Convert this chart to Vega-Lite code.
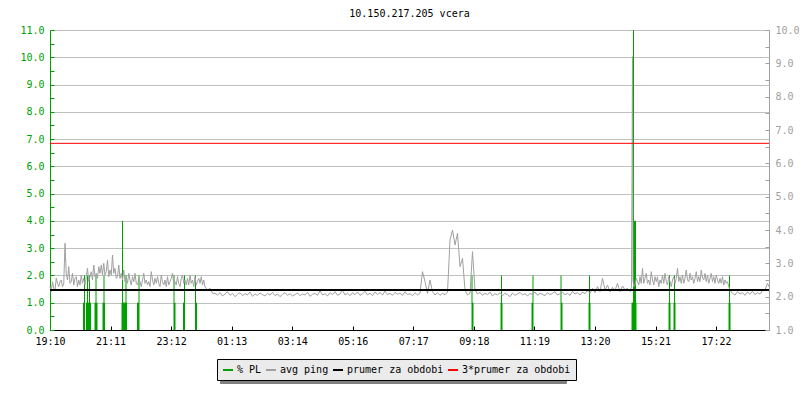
{
  "$schema": "https://vega.github.io/schema/vega-lite/v6.json",
  "width": 719,
  "height": 300,
  "autosize": {"type": "none"},
  "padding": {"left": 50, "top": 30, "right": 31, "bottom": 70},
  "background": "white",
  "title": {"text": "10.150.217.205 vcera", "font": "DejaVu Sans Mono", "fontSize": 10, "fontWeight": "normal", "color": "#000000", "anchor": "middle", "offset": 6},
  "config": {"font": "DejaVu Sans Mono", "view": {"stroke": null}, "axis": {"labelOverlap": false, "labelBound": false, "title": null}},
  "datasets": {
    "pl": [
      {"t":67,"pl":1},{"t":68,"pl":1},{"t":69,"pl":2},
      {"t":73,"pl":1},{"t":74,"pl":1},{"t":75,"pl":2},{"t":76,"pl":1},{"t":77,"pl":1},{"t":78,"pl":1},{"t":79,"pl":2},{"t":80,"pl":1},{"t":81,"pl":1},
      {"t":90,"pl":1},{"t":91,"pl":1},{"t":92,"pl":2},{"t":93,"pl":1},{"t":94,"pl":1},
      {"t":106,"pl":1},{"t":107,"pl":1},{"t":108,"pl":2},{"t":109,"pl":1},
      {"t":144,"pl":1},{"t":145,"pl":4},{"t":146,"pl":1},{"t":147,"pl":1},{"t":148,"pl":1},{"t":149,"pl":1},{"t":150,"pl":1},{"t":151,"pl":1},{"t":152,"pl":2},{"t":153,"pl":1},
      {"t":175,"pl":1},{"t":176,"pl":1},{"t":177,"pl":1},{"t":178,"pl":2},
      {"t":248,"pl":2},{"t":249,"pl":1},{"t":250,"pl":1},
      {"t":267,"pl":1},{"t":268,"pl":1},{"t":269,"pl":2},
      {"t":291,"pl":2},{"t":292,"pl":1},{"t":293,"pl":1},
      {"t":844,"pl":2},{"t":845,"pl":1},{"t":846,"pl":1},
      {"t":902,"pl":1},{"t":903,"pl":2},{"t":904,"pl":1},
      {"t":964,"pl":1},{"t":965,"pl":1},{"t":966,"pl":2},
      {"t":1022,"pl":2},{"t":1023,"pl":1},{"t":1024,"pl":1},
      {"t":1078,"pl":1},{"t":1079,"pl":2},{"t":1080,"pl":1},
      {"t":1164,"pl":1},{"t":1165,"pl":1},{"t":1166,"pl":1},{"t":1167,"pl":11},{"t":1168,"pl":4},{"t":1169,"pl":4},{"t":1170,"pl":4},{"t":1171,"pl":4},{"t":1172,"pl":1},
      {"t":1238,"pl":1},{"t":1239,"pl":2},{"t":1240,"pl":1},
      {"t":1248,"pl":1},{"t":1249,"pl":2},{"t":1250,"pl":1},
      {"t":1358,"pl":1},{"t":1359,"pl":2},{"t":1360,"pl":1}
    ],
    "ping": [
      {"t":0,"ping":2.3},{"t":2.5,"ping":2.15},{"t":5,"ping":2.45},{"t":7.5,"ping":2.25},{"t":10,"ping":2.2},{"t":12.5,"ping":2.55},{"t":15,"ping":2.4},{"t":17.5,"ping":2.3},{"t":20,"ping":2.45},{"t":22.5,"ping":2.5},
      {"t":25,"ping":2.3},{"t":27.5,"ping":2.4},{"t":30,"ping":3.6},{"t":32.5,"ping":2.7},{"t":35,"ping":2.5},{"t":37.5,"ping":2.9},{"t":40,"ping":2.4},{"t":42.5,"ping":2.45},{"t":45,"ping":2.7},{"t":47.5,"ping":2.35},
      {"t":50,"ping":2.55},{"t":52.5,"ping":2.6},{"t":55,"ping":2.3},{"t":57.5,"ping":2.5},{"t":60,"ping":2.35},{"t":62.5,"ping":2.65},{"t":65,"ping":2.4},{"t":67.5,"ping":2.55},{"t":70,"ping":2.35},{"t":72.5,"ping":2.6},
      {"t":75,"ping":2.85},{"t":77.5,"ping":2.45},{"t":80,"ping":2.6},{"t":82.5,"ping":2.75},{"t":85,"ping":2.5},{"t":87.5,"ping":2.95},{"t":90,"ping":2.6},{"t":92.5,"ping":2.7},{"t":95,"ping":2.55},{"t":97.5,"ping":2.9},
      {"t":100,"ping":2.7},{"t":102.5,"ping":2.95},{"t":105,"ping":2.65},{"t":107.5,"ping":3.0},{"t":110,"ping":2.65},{"t":112.5,"ping":2.75},{"t":115,"ping":3.1},{"t":117.5,"ping":2.6},{"t":120,"ping":2.8},{"t":122.5,"ping":2.65},
      {"t":125,"ping":3.25},{"t":127.5,"ping":2.7},{"t":130,"ping":2.85},{"t":132.5,"ping":2.55},{"t":135,"ping":2.6},{"t":137.5,"ping":2.95},{"t":140,"ping":2.55},{"t":142.5,"ping":2.7},{"t":145,"ping":2.5},{"t":147.5,"ping":2.8},
      {"t":150,"ping":2.45},{"t":152.5,"ping":2.55},{"t":155,"ping":2.4},{"t":157.5,"ping":2.7},{"t":160,"ping":2.5},{"t":162.5,"ping":2.35},{"t":165,"ping":2.6},{"t":167.5,"ping":2.45},{"t":170,"ping":2.7},{"t":172.5,"ping":2.4},
      {"t":175,"ping":2.35},{"t":177.5,"ping":2.55},{"t":180,"ping":2.45},{"t":182.5,"ping":2.3},{"t":185,"ping":2.5},{"t":187.5,"ping":2.7},{"t":190,"ping":2.4},{"t":192.5,"ping":2.5},{"t":195,"ping":2.35},{"t":197.5,"ping":2.45},
      {"t":200,"ping":2.3},{"t":202.5,"ping":2.75},{"t":205,"ping":2.5},{"t":207.5,"ping":2.35},{"t":210,"ping":2.55},{"t":212.5,"ping":2.4},{"t":215,"ping":2.6},{"t":217.5,"ping":2.4},{"t":220,"ping":2.3},{"t":222.5,"ping":2.65},
      {"t":225,"ping":2.45},{"t":227.5,"ping":2.35},{"t":230,"ping":2.5},{"t":232.5,"ping":2.3},{"t":235,"ping":2.6},{"t":237.5,"ping":2.35},{"t":240,"ping":2.45},{"t":242.5,"ping":2.55},{"t":245,"ping":2.7},{"t":247.5,"ping":2.4},
      {"t":250,"ping":2.45},{"t":252.5,"ping":2.35},{"t":255,"ping":2.6},{"t":257.5,"ping":2.4},{"t":260,"ping":2.3},{"t":262.5,"ping":2.55},{"t":265,"ping":2.65},{"t":267.5,"ping":2.4},{"t":270,"ping":2.5},{"t":272.5,"ping":2.35},
      {"t":275,"ping":2.55},{"t":277.5,"ping":2.35},{"t":280,"ping":2.65},{"t":282.5,"ping":2.4},{"t":285,"ping":2.5},{"t":287.5,"ping":2.3},{"t":290,"ping":2.6},{"t":292.5,"ping":2.35},{"t":295,"ping":2.45},{"t":297.5,"ping":2.55},
      {"t":300,"ping":2.4},{"t":302.5,"ping":2.6},{"t":305,"ping":2.35},{"t":307.5,"ping":2.5},{"t":310,"ping":2.3},{"t":315,"ping":2.2},{"t":320,"ping":2.25},{"t":325,"ping":2.1},
      {"t":330,"ping":2.1},{"t":335,"ping":2.05},{"t":340,"ping":2.12},{"t":345,"ping":2.02},{"t":350,"ping":2.08},{"t":355,"ping":2.15},{"t":360,"ping":2.04},{"t":365,"ping":2.1},{"t":370,"ping":2.0},{"t":375,"ping":2.07},
      {"t":380,"ping":2.12},{"t":385,"ping":2.03},{"t":390,"ping":2.09},{"t":395,"ping":2.05},{"t":400,"ping":2.14},{"t":405,"ping":2.01},{"t":410,"ping":2.08},{"t":415,"ping":2.04},{"t":420,"ping":2.11},{"t":425,"ping":2.06},
      {"t":430,"ping":2.02},{"t":435,"ping":2.1},{"t":440,"ping":2.05},{"t":445,"ping":2.13},{"t":450,"ping":2.03},{"t":455,"ping":2.08},{"t":460,"ping":2.0},{"t":465,"ping":2.07},{"t":470,"ping":2.12},{"t":475,"ping":2.04},
      {"t":480,"ping":2.09},{"t":485,"ping":2.02},{"t":490,"ping":2.06},{"t":495,"ping":2.11},{"t":500,"ping":2.03},{"t":505,"ping":2.08},{"t":510,"ping":2.05},{"t":515,"ping":2.13},{"t":520,"ping":2.01},{"t":525,"ping":2.07},
      {"t":530,"ping":2.1},{"t":535,"ping":2.04},{"t":540,"ping":2.18},{"t":545,"ping":2.05},{"t":550,"ping":2.09},{"t":555,"ping":2.02},{"t":560,"ping":2.12},{"t":565,"ping":2.06},{"t":570,"ping":2.15},{"t":575,"ping":2.04},
      {"t":580,"ping":2.08},{"t":585,"ping":2.19},{"t":590,"ping":2.05},{"t":595,"ping":2.1},{"t":600,"ping":2.03},{"t":605,"ping":2.12},{"t":610,"ping":2.06},{"t":615,"ping":2.14},{"t":620,"ping":2.04},{"t":625,"ping":2.09},
      {"t":630,"ping":2.16},{"t":635,"ping":2.05},{"t":640,"ping":2.11},{"t":645,"ping":2.03},{"t":650,"ping":2.14},{"t":655,"ping":2.07},{"t":660,"ping":2.12},{"t":665,"ping":2.05},{"t":670,"ping":2.17},{"t":675,"ping":2.06},
      {"t":680,"ping":2.1},{"t":685,"ping":2.04},{"t":690,"ping":2.13},{"t":695,"ping":2.07},{"t":700,"ping":2.11},{"t":705,"ping":2.04},{"t":710,"ping":2.15},{"t":715,"ping":2.06},{"t":720,"ping":2.09},{"t":725,"ping":2.03},
      {"t":730,"ping":2.12},{"t":735,"ping":2.05},{"t":740,"ping":2.1},{"t":745,"ping":2.75},{"t":750,"ping":2.45},{"t":755,"ping":2.1},{"t":760,"ping":2.5},{"t":765,"ping":2.15},{"t":770,"ping":2.05},{"t":775,"ping":2.12},
      {"t":780,"ping":2.04},{"t":785,"ping":2.1},{"t":790,"ping":2.06},{"t":795,"ping":2.13},{"t":800,"ping":3.7},{"t":805,"ping":4.0},{"t":810,"ping":3.55},{"t":815,"ping":3.9},{"t":820,"ping":2.9},{"t":825,"ping":3.15},
      {"t":830,"ping":2.2},{"t":835,"ping":2.05},{"t":840,"ping":2.1},{"t":845,"ping":3.35},{"t":850,"ping":2.2},{"t":855,"ping":2.08},{"t":860,"ping":2.13},{"t":865,"ping":2.04},{"t":870,"ping":2.1},{"t":875,"ping":2.06},
      {"t":880,"ping":2.14},{"t":885,"ping":2.02},{"t":890,"ping":2.09},{"t":895,"ping":2.05},{"t":900,"ping":2.12},{"t":905,"ping":2.03},{"t":910,"ping":2.1},{"t":915,"ping":2.06},{"t":920,"ping":2.0},{"t":925,"ping":2.11},
      {"t":930,"ping":2.04},{"t":935,"ping":2.08},{"t":940,"ping":2.13},{"t":945,"ping":2.05},{"t":950,"ping":2.09},{"t":955,"ping":2.02},{"t":960,"ping":2.1},{"t":965,"ping":2.06},{"t":970,"ping":2.14},{"t":975,"ping":2.04},
      {"t":980,"ping":2.1},{"t":985,"ping":2.07},{"t":990,"ping":2.03},{"t":995,"ping":2.12},{"t":1000,"ping":2.06},{"t":1005,"ping":2.1},{"t":1010,"ping":2.15},{"t":1015,"ping":2.05},{"t":1020,"ping":2.09},{"t":1025,"ping":2.13},
      {"t":1030,"ping":2.06},{"t":1035,"ping":2.1},{"t":1040,"ping":2.04},{"t":1045,"ping":2.16},{"t":1050,"ping":2.08},{"t":1055,"ping":2.12},{"t":1060,"ping":2.05},{"t":1065,"ping":2.14},{"t":1070,"ping":2.09},{"t":1075,"ping":2.18},
      {"t":1080,"ping":2.1},{"t":1085,"ping":2.25},{"t":1090,"ping":2.12},{"t":1095,"ping":2.3},{"t":1100,"ping":2.15},{"t":1105,"ping":2.55},{"t":1110,"ping":2.2},{"t":1115,"ping":2.35},{"t":1120,"ping":2.14},{"t":1125,"ping":2.28},
      {"t":1130,"ping":2.18},{"t":1135,"ping":2.4},{"t":1140,"ping":2.15},{"t":1145,"ping":2.32},{"t":1150,"ping":2.2},{"t":1155,"ping":2.25},{"t":1160,"ping":2.15},{"t":1163,"ping":2.3},{"t":1164,"ping":5.5},{"t":1165,"ping":9.2},
      {"t":1166,"ping":2.5},{"t":1167.5,"ping":2.3},{"t":1170,"ping":2.35},{"t":1172.5,"ping":2.55},{"t":1175,"ping":2.45},{"t":1177.5,"ping":2.35},{"t":1180,"ping":2.6},{"t":1182.5,"ping":2.4},{"t":1185,"ping":2.85},{"t":1187.5,"ping":2.4},
      {"t":1190,"ping":2.55},{"t":1192.5,"ping":2.7},{"t":1195,"ping":2.4},{"t":1197.5,"ping":2.5},{"t":1200,"ping":2.35},{"t":1202.5,"ping":2.75},{"t":1205,"ping":2.5},{"t":1207.5,"ping":2.35},{"t":1210,"ping":2.6},{"t":1212.5,"ping":2.45},
      {"t":1215,"ping":2.6},{"t":1217.5,"ping":2.3},{"t":1220,"ping":2.5},{"t":1222.5,"ping":2.4},{"t":1225,"ping":2.65},{"t":1227.5,"ping":2.4},{"t":1230,"ping":2.7},{"t":1232.5,"ping":2.45},{"t":1235,"ping":2.35},{"t":1237.5,"ping":2.6},
      {"t":1240,"ping":2.45},{"t":1242.5,"ping":2.3},{"t":1245,"ping":2.5},{"t":1247.5,"ping":2.6},{"t":1250,"ping":2.4},{"t":1252.5,"ping":2.55},{"t":1255,"ping":2.85},{"t":1257.5,"ping":2.45},{"t":1260,"ping":2.6},{"t":1262.5,"ping":2.4},
      {"t":1265,"ping":2.65},{"t":1267.5,"ping":2.4},{"t":1270,"ping":2.55},{"t":1272.5,"ping":2.8},{"t":1275,"ping":2.5},{"t":1277.5,"ping":2.45},{"t":1280,"ping":2.7},{"t":1282.5,"ping":2.5},{"t":1285,"ping":2.6},{"t":1287.5,"ping":2.4},
      {"t":1290,"ping":2.55},{"t":1292.5,"ping":2.75},{"t":1295,"ping":2.45},{"t":1297.5,"ping":2.6},{"t":1300,"ping":2.45},{"t":1302.5,"ping":2.8},{"t":1305,"ping":2.55},{"t":1307.5,"ping":2.5},{"t":1310,"ping":2.7},{"t":1312.5,"ping":2.45},
      {"t":1315,"ping":2.65},{"t":1317.5,"ping":2.4},{"t":1320,"ping":2.55},{"t":1322.5,"ping":2.7},{"t":1325,"ping":2.45},{"t":1327.5,"ping":2.6},{"t":1330,"ping":2.4},{"t":1332.5,"ping":2.65},{"t":1335,"ping":2.5},{"t":1337.5,"ping":2.4},
      {"t":1340,"ping":2.55},{"t":1342.5,"ping":2.4},{"t":1345,"ping":2.6},{"t":1347.5,"ping":2.35},{"t":1350,"ping":2.5},{"t":1352.5,"ping":2.4},{"t":1355,"ping":2.45},{"t":1357.5,"ping":2.3},{"t":1360,"ping":2.2},
      {"t":1365,"ping":2.1},{"t":1370,"ping":2.05},{"t":1375,"ping":2.15},{"t":1380,"ping":2.08},{"t":1385,"ping":2.12},{"t":1390,"ping":2.04},{"t":1395,"ping":2.14},{"t":1400,"ping":2.07},{"t":1405,"ping":2.16},{"t":1410,"ping":2.06},
      {"t":1415,"ping":2.12},{"t":1420,"ping":2.08},{"t":1425,"ping":2.18},{"t":1430,"ping":2.2},{"t":1435,"ping":2.4},{"t":1438,"ping":2.3}
    ],
    "stats": [
      {"name": "prumer za obdobi", "ping": 2.2},
      {"name": "3*prumer za obdobi", "ping": 6.6}
    ]
  },
  "layer": [
    {
      "data": {"name": "pl"},
      "mark": {"type": "rule", "strokeWidth": 1},
      "encoding": {
        "x": {"field": "t", "type": "quantitative", "scale": {"domain": [0, 1438], "nice": false, "zero": false},
          "axis": {"orient": "bottom", "title": null, "values": [0, 121.1, 242.2, 363.3, 484.4, 605.5, 726.6, 847.7, 968.8, 1089.9, 1211, 1332.1],
            "labelExpr": "['19:10','21:11','23:12','01:13','03:14','05:16','07:17','09:18','11:19','13:20','15:21','17:22'][round(datum.value/121.1)]",
            "labelFont": "DejaVu Sans Mono", "labelFontSize": 10, "labelColor": "#000000", "labelPadding": 10, "labelFlush": false, "labelOverlap": false, "labelBound": false,
            "domainColor": "#000000", "domainWidth": 1, "tickColor": "#000000", "tickSize": -4, "tickWidth": 1, "grid": false}},
        "y": {"field": "pl", "type": "quantitative", "scale": {"domain": [0, 11], "nice": false, "zero": true},
          "axis": {"orient": "left", "title": null, "values": [0,0.5,1,1.5,2,2.5,3,3.5,4,4.5,5,5.5,6,6.5,7,7.5,8,8.5,9,9.5,10,10.5,11],
            "labelExpr": "datum.value % 1 == 0 ? format(datum.value, '.1f') : ''",
            "labelFont": "DejaVu Sans Mono", "labelFontSize": 10, "labelColor": "#00a000", "labelPadding": 10, "labelOverlap": false, "labelBound": false,
            "domainColor": "#00a000", "domainWidth": 1, "tickColor": "#00a000", "tickSize": -4, "tickWidth": 1,
            "grid": true, "gridColor": "#c0c0c0", "gridWidth": 1,
            "gridOpacity": {"condition": {"test": "datum.value % 1 == 0", "value": 1}, "value": 0}}},
        "y2": {"datum": 0},
        "color": {"datum": "% PL", "type": "nominal",
          "scale": {"domain": ["% PL", "avg ping", "prumer za obdobi", "3*prumer za obdobi"], "range": ["#00a000", "#a0a0a0", "#000000", "#ff0000"]},
          "legend": {"title": null, "orient": "none", "legendX": 167, "legendY": 329, "direction": "horizontal", "zindex": 2,
            "fillColor": "#ebebeb", "strokeColor": "#000000", "padding": 5,
            "symbolType": "stroke", "symbolStrokeWidth": 2, "symbolSize": 100,
            "labelFont": "DejaVu Sans Mono", "labelFontSize": 10, "labelColor": "#000000", "labelOffset": 3, "columnPadding": 0}}
      }
    },
    {
      "layer": [
        {
          "data": {"name": "ping"},
          "mark": {"type": "line", "strokeWidth": 1},
          "encoding": {
            "x": {"field": "t", "type": "quantitative", "scale": {"domain": [0, 1438], "nice": false, "zero": false},
              "axis": {"orient": "bottom", "title": null, "values": [0, 121.1, 242.2, 363.3, 484.4, 605.5, 726.6, 847.7, 968.8, 1089.9, 1211, 1332.1],
                "labelExpr": "['19:10','21:11','23:12','01:13','03:14','05:16','07:17','09:18','11:19','13:20','15:21','17:22'][round(datum.value/121.1)]",
                "labelFont": "DejaVu Sans Mono", "labelFontSize": 10, "labelColor": "#000000", "labelPadding": 10, "labelFlush": false, "labelOverlap": false, "labelBound": false,
                "domainColor": "#000000", "domainWidth": 1, "tickColor": "#000000", "tickSize": -4, "tickWidth": 1, "grid": false}},
            "y": {"field": "ping", "type": "quantitative", "scale": {"domain": [1, 10], "nice": false, "zero": false},
              "axis": {"orient": "right", "title": null, "values": [1,1.5,2,2.5,3,3.5,4,4.5,5,5.5,6,6.5,7,7.5,8,8.5,9,9.5,10],
                "labelExpr": "datum.value % 1 == 0 ? format(datum.value, '.1f') : ''",
                "labelFont": "DejaVu Sans Mono", "labelFontSize": 10, "labelColor": "#a0a0a0", "labelPadding": 10, "labelOverlap": false, "labelBound": false,
                "domainColor": "#a0a0a0", "domainWidth": 1, "tickColor": "#a0a0a0", "tickSize": -4, "tickWidth": 1, "grid": false}},
            "color": {"datum": "avg ping", "type": "nominal"}
          }
        },
        {
          "data": {"name": "stats"},
          "transform": [{"filter": "datum.name == 'prumer za obdobi'"}],
          "mark": {"type": "rule", "strokeWidth": 2},
          "encoding": {
            "y": {"field": "ping", "type": "quantitative", "scale": {"domain": [1, 10], "nice": false, "zero": false},
              "axis": {"orient": "right", "title": null, "values": [1,1.5,2,2.5,3,3.5,4,4.5,5,5.5,6,6.5,7,7.5,8,8.5,9,9.5,10],
                "labelExpr": "datum.value % 1 == 0 ? format(datum.value, '.1f') : ''",
                "labelFont": "DejaVu Sans Mono", "labelFontSize": 10, "labelColor": "#a0a0a0", "labelPadding": 10, "labelOverlap": false, "labelBound": false,
                "domainColor": "#a0a0a0", "domainWidth": 1, "tickColor": "#a0a0a0", "tickSize": -4, "tickWidth": 1, "grid": false}},
            "color": {"datum": "prumer za obdobi", "type": "nominal"}
          }
        },
        {
          "data": {"name": "stats"},
          "transform": [{"filter": "datum.name == '3*prumer za obdobi'"}],
          "mark": {"type": "rule", "strokeWidth": 1},
          "encoding": {
            "y": {"field": "ping", "type": "quantitative", "scale": {"domain": [1, 10], "nice": false, "zero": false},
              "axis": {"orient": "right", "title": null, "values": [1,1.5,2,2.5,3,3.5,4,4.5,5,5.5,6,6.5,7,7.5,8,8.5,9,9.5,10],
                "labelExpr": "datum.value % 1 == 0 ? format(datum.value, '.1f') : ''",
                "labelFont": "DejaVu Sans Mono", "labelFontSize": 10, "labelColor": "#a0a0a0", "labelPadding": 10, "labelOverlap": false, "labelBound": false,
                "domainColor": "#a0a0a0", "domainWidth": 1, "tickColor": "#a0a0a0", "tickSize": -4, "tickWidth": 1, "grid": false}},
            "color": {"datum": "3*prumer za obdobi", "type": "nominal"}
          }
        }
      ]
    },
    {
      "data": {"name": "stats"},
      "mark": {"type": "point", "size": 0, "opacity": 0},
      "encoding": {
        "shape": {"datum": "a", "type": "nominal",
          "scale": {"domain": ["a", "b", "c", "d"], "range": ["stroke", "stroke", "stroke", "stroke"]},
          "legend": {"title": null, "orient": "none", "legendX": 170, "legendY": 332, "direction": "horizontal", "zindex": 1,
            "fillColor": "#808080", "strokeColor": "#808080", "padding": 5,
            "symbolType": "stroke", "symbolStrokeWidth": 2, "symbolSize": 100, "symbolStrokeColor": "#808080", "symbolFillColor": "#808080", "symbolOpacity": 0,
            "labelExpr": "''", "labelFont": "DejaVu Sans Mono", "labelFontSize": 10, "labelColor": "#808080", "labelOffset": 3, "columnPadding": 92}}
      }
    }
  ],
  "resolve": {"scale": {"y": "independent"}}
}
